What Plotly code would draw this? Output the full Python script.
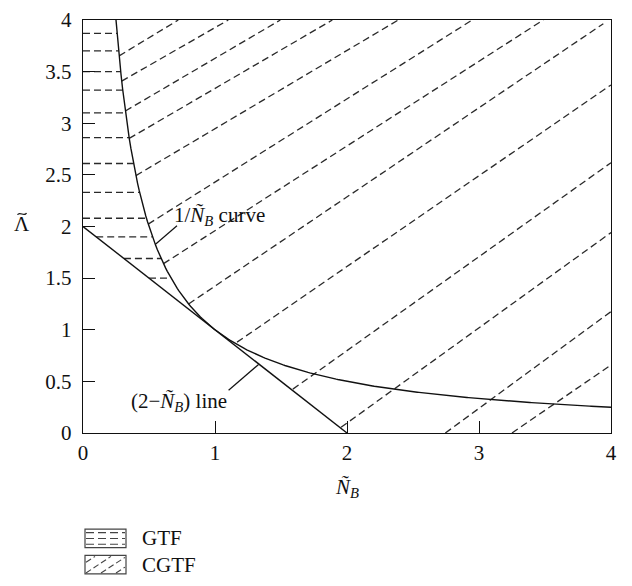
import numpy as np
import plotly.graph_objects as go

# ---------------- data ----------------
x_ticks = [0, 1, 2, 3, 4]
y_ticks = [0, 0.5, 1, 1.5, 2, 2.5, 3, 3.5, 4]

# 1/N_B curve and (2 - N_B) line
curve_x = np.linspace(0.25, 4.0, 300)
curve_y = 1.0 / curve_x
line_x = [0.0, 2.0]
line_y = [2.0, 0.0]

# GTF hatch: horizontal dashed levels (Lambda values)
gtf_levels = [3.87, 3.70, 3.50, 3.32, 3.10, 2.86, 2.61, 2.33, 2.08, 1.90, 1.69, 1.50]

# CGTF hatch: diagonal dashed strokes (start on boundary, end on frame)
cgtf_start_x = [0.274, 0.293, 0.321, 0.350, 0.401, 0.494, 0.610, 0.800, 1.167, 1.590, 1.955, 2.745, 3.250]
cgtf_start_y = [3.653, 3.408, 3.119, 2.853, 2.493, 2.023, 1.640, 1.250, 0.880, 0.425, 0.055, 0.0, 0.0]
cgtf_end_x = [0.722, 1.101, 1.495, 1.889, 2.389, 2.949, 3.487, 3.942, 4.0, 4.0, 4.0, 4.0, 4.0]
cgtf_end_y = [4.0, 4.0, 4.0, 4.0, 4.0, 4.0, 4.0, 3.964, 3.371, 2.618, 1.941, 1.176, 0.659]

FONT = "Liberation Serif"
FS = 21
HATCH = "#2a2a2a"

# ---------------- build ----------------
hx, hy = [], []
for lv in gtf_levels:
    hx += [max(0.0, 2.0 - lv), 1.0 / lv, None]
    hy += [lv, lv, None]

dx, dy = [], []
for sx, sy, ex, ey in zip(cgtf_start_x, cgtf_start_y, cgtf_end_x, cgtf_end_y):
    dx += [sx, ex, None]
    dy += [sy, ey, None]

fig = go.Figure()
fig.add_trace(go.Scatter(x=hx, y=hy, mode="lines", connectgaps=False,
                         line=dict(color=HATCH, width=1.3, dash="7px,4px"),
                         hoverinfo="skip", showlegend=False))
fig.add_trace(go.Scatter(x=dx, y=dy, mode="lines", connectgaps=False,
                         line=dict(color=HATCH, width=1.3, dash="7px,4px"),
                         hoverinfo="skip", showlegend=False))
fig.add_trace(go.Scatter(x=curve_x, y=curve_y, mode="lines",
                         line=dict(color="#111", width=1.4), showlegend=False))
fig.add_trace(go.Scatter(x=line_x, y=line_y, mode="lines",
                         line=dict(color="#111", width=1.4), showlegend=False))

W, H = 632, 586
L, R, T, B = 83, 21, 8, 153
PW, PH = W - L - R, H - T - B


def px(xp, yp):
    return (xp - L) / PW, (H - B - yp) / PH


shapes = []
# leader lines
shapes.append(dict(type="line", xref="x", yref="y", x0=0.547, y0=1.826, x1=0.712, y1=2.007,
                   line=dict(color="#111", width=1.2)))
shapes.append(dict(type="line", xref="x", yref="y", x0=1.103, y0=0.414, x1=1.330, y1=0.664,
                   line=dict(color="#111", width=1.2)))

# tilde accent over the y-axis symbol (drawn as a small wave)
p0 = px(17.5, 208.5)
c1 = px(19.5, 204.5)
c2 = px(24.5, 211.0)
p3 = px(26.5, 206.5)
shapes.append(dict(type="path", xref="paper", yref="paper",
                   path=f"M {p0[0]},{p0[1]} C {c1[0]},{c1[1]} {c2[0]},{c2[1]} {p3[0]},{p3[1]}",
                   line=dict(color="#111", width=1.2)))

# legend boxes
for (y0p, y1p) in [(532, 551), (559, 578)]:
    a0, b0 = px(85, y1p)
    a1, b1 = px(126, y0p)
    shapes.append(dict(type="rect", xref="paper", yref="paper", x0=a0, y0=b0, x1=a1, y1=b1,
                       line=dict(color="#444", width=1.2)))
for yy in [535.5, 541.5, 547.5]:
    a0, b0 = px(86, yy)
    a1, b1 = px(125, yy)
    shapes.append(dict(type="line", xref="paper", yref="paper", x0=a0, y0=b0, x1=a1, y1=b1,
                       line=dict(color="#444", width=1.1, dash="8px,4px")))
for (xa, ya, xb, yb) in [(86, 566, 95, 560), (86, 577, 111, 560), (101, 577, 125, 561), (116, 577, 125, 571)]:
    a0, b0 = px(xa, ya)
    a1, b1 = px(xb, yb)
    shapes.append(dict(type="line", xref="paper", yref="paper", x0=a0, y0=b0, x1=a1, y1=b1,
                       line=dict(color="#444", width=1.1, dash="6px,3px")))

ann = []
ann.append(dict(text="1/<i>Ñ</i><sub><i>B</i></sub> curve", xref="x", yref="y", x=0.677, y=2.10,
                xanchor="left", yanchor="middle", showarrow=False,
                font=dict(family=FONT, size=FS, color="#111")))
ann.append(dict(text="(2−<i>Ñ</i><sub><i>B</i></sub>) line", xref="x", yref="y", x=1.103, y=0.30,
                xanchor="right", yanchor="middle", showarrow=False,
                font=dict(family=FONT, size=FS, color="#111")))
ax_, ay_ = px(22, 218)
ann.append(dict(text="Λ", xref="paper", yref="paper", x=ax_, y=ay_, xanchor="center", yanchor="middle",
                showarrow=False, font=dict(family=FONT, size=FS, color="#111")))
bx_, by_ = px(347, 490)
ann.append(dict(text="<i>Ñ</i><sub><i>B</i></sub>", xref="paper", yref="paper", x=bx_, y=by_,
                xanchor="center", yanchor="middle", showarrow=False,
                font=dict(family=FONT, size=FS, color="#111")))
for label, yc in [("GTF", 541), ("CGTF", 569)]:
    lx, ly = px(140, yc)
    ann.append(dict(text=label, xref="paper", yref="paper", x=lx, y=ly, xanchor="left", yanchor="middle",
                    showarrow=False, font=dict(family=FONT, size=FS, color="#111")))

fig.update_layout(
    width=W, height=H, margin=dict(l=L, r=R, t=T, b=B, pad=0),
    paper_bgcolor="white", plot_bgcolor="white",
    font=dict(family=FONT, size=FS, color="#111"),
    shapes=shapes, annotations=ann, showlegend=False,
)
fig.update_xaxes(range=[0, 4], tickvals=x_ticks, ticktext=[str(v) for v in x_ticks],
                 ticks="inside", ticklen=12, tickwidth=1.2, tickcolor="#111",
                 showline=True, linecolor="#111", linewidth=1.4, mirror=True,
                 showgrid=False, zeroline=False, ticklabelstandoff=1,
                 ticklabeloverflow="allow", tickfont=dict(family=FONT, size=FS, color="#111"))
fig.update_yaxes(range=[0, 4], tickvals=y_ticks, ticktext=[f"{v:g}" for v in y_ticks],
                 ticks="inside", ticklen=12, tickwidth=1.2, tickcolor="#111",
                 showline=True, linecolor="#111", linewidth=1.4, mirror=True,
                 showgrid=False, zeroline=False, ticklabelstandoff=6,
                 ticklabeloverflow="allow", tickfont=dict(family=FONT, size=FS, color="#111"))

fig.write_html("out.html")
